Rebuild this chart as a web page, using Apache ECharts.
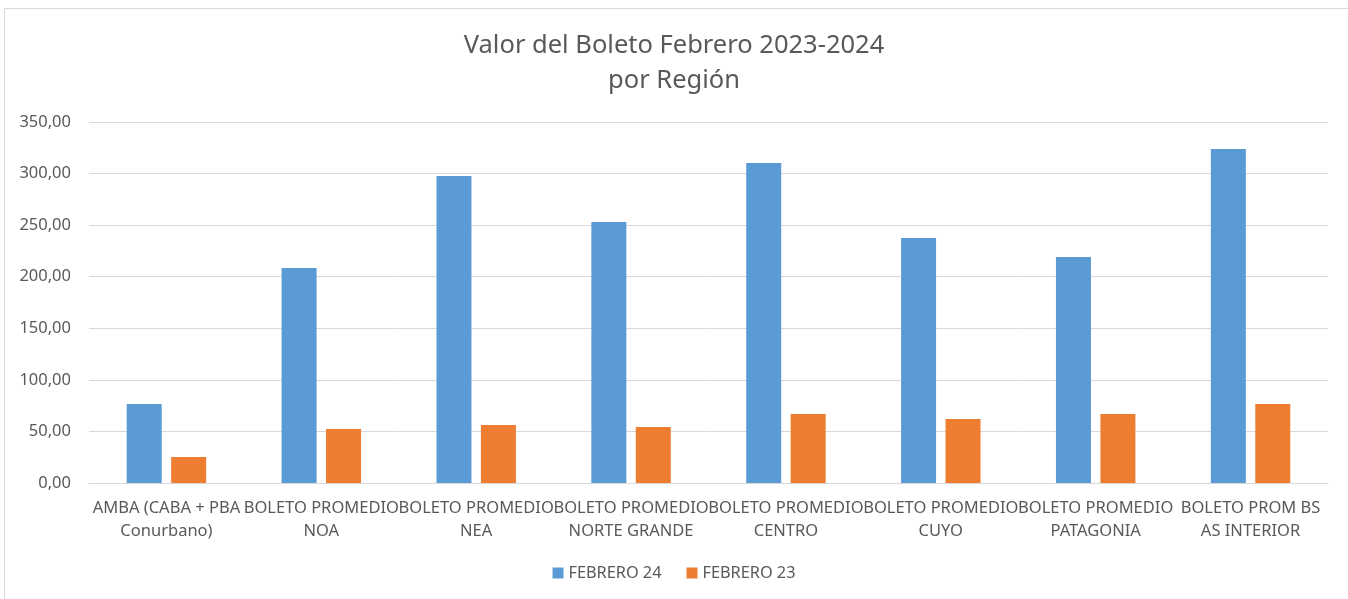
<!DOCTYPE html>
<html>
<head>
<meta charset="utf-8">
<script src="https://cdn.jsdelivr.net/npm/echarts@6/dist/echarts.min.js"></script>
<style>
  html, body { margin: 0; padding: 0; background: #fff; overflow: hidden; }
  #frame {
    position: absolute; left: 4px; top: 8px;
    width: 1400px; height: 650px;
    border: 1px solid #d9d9d9;
  }
  #chart { position: absolute; left: 0; top: 0; width: 1348px; height: 599px; }
</style>
</head>
<body>
<div id="frame"></div>
<div id="chart"></div>
<script>
  const categories = [
    'AMBA (CABA + PBA\nConurbano)',
    'BOLETO PROMEDIO\nNOA',
    'BOLETO PROMEDIO\nNEA',
    'BOLETO PROMEDIO\nNORTE GRANDE',
    'BOLETO PROMEDIO\nCENTRO',
    'BOLETO PROMEDIO\nCUYO',
    'BOLETO PROMEDIO\nPATAGONIA',
    'BOLETO PROM BS\nAS INTERIOR'
  ]
  const febrero24 = [76.6, 208.5, 297.7, 253.0, 310.3, 237.5, 219.0, 323.8]
  const febrero23 = [25.2, 52.4, 56.2, 54.3, 66.9, 62.0, 67.0, 76.6]
  const yTicks = { min: 0, max: 350, interval: 50 }

  const font = 'Noto Sans'
  const textGray = '#595959'

  const myChart = echarts.init(document.getElementById('chart'))

  const option = {
    animation: false,
    title: {
      text: 'Valor del Boleto Febrero 2023-2024\npor Región',
      left: 'center',
      top: 23,
      textStyle: {
        fontFamily: font,
        fontSize: 25.5,
        fontWeight: 'normal',
        color: textGray,
        lineHeight: 35
      }
    },
    legend: {
      data: ['FEBRERO 24', 'FEBRERO 23'],
      bottom: 13,
      left: 'center',
      icon: 'rect',
      itemWidth: 11,
      itemHeight: 11,
      itemGap: 25,
      textStyle: { fontFamily: font, fontSize: 16.3, color: textGray }
    },
    grid: {
      left: 89,
      right: 20,
      top: 122,
      bottom: 116,
      containLabel: false
    },
    xAxis: {
      type: 'category',
      data: categories,
      axisLine: { lineStyle: { color: '#d9d9d9' } },
      axisTick: { show: false },
      axisLabel: {
        interval: 0,
        margin: 14,
        fontFamily: font,
        fontSize: 16.5,
        lineHeight: 23,
        color: textGray
      }
    },
    yAxis: {
      type: 'value',
      min: yTicks.min,
      max: yTicks.max,
      interval: yTicks.interval,
      axisLine: { show: false },
      axisTick: { show: false },
      splitLine: { lineStyle: { color: '#d9d9d9' } },
      axisLabel: {
        margin: 18,
        fontFamily: font,
        fontSize: 16.5,
        color: textGray,
        formatter: v => v.toFixed(2).replace('.', ',')
      }
    },
    series: [
      {
        name: 'FEBRERO 24',
        type: 'bar',
        data: febrero24,
        barWidth: 35,
        barGap: '27%',
        itemStyle: { color: '#5b9bd5' }
      },
      {
        name: 'FEBRERO 23',
        type: 'bar',
        data: febrero23,
        barWidth: 35,
        barGap: '27%',
        itemStyle: { color: '#ed7d31' }
      }
    ]
  }

  myChart.setOption(option)
</script>
</body>
</html>
